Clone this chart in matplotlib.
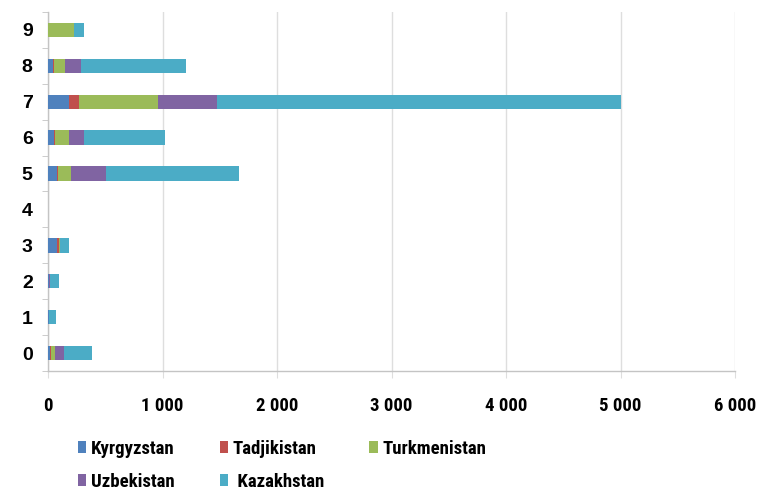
import numpy as np
import matplotlib
matplotlib.use('Agg')
import matplotlib.pyplot as plt
from matplotlib import font_manager
from matplotlib.patches import Patch
from matplotlib.ticker import FuncFormatter

# ===== 数据 =====
categories = ['0', '1', '2', '3', '4', '5', '6', '7', '8', '9']
countries = ['Kyrgyzstan', 'Tadjikistan', 'Turkmenistan', 'Uzbekistan', 'Kazakhstan']
kyrgyzstan = [15, 5, 5, 75, 0, 80, 50, 185, 40, 0]
tadjikistan = [15, 0, 0, 25, 0, 10, 10, 87, 10, 0]
turkmenistan = [28, 0, 0, 5, 0, 115, 125, 690, 100, 227]
uzbekistan = [82, 0, 10, 0, 0, 300, 130, 516, 135, 0]
kazakhstan = [240, 65, 80, 80, 0, 1160, 705, 3522, 920, 88]
colors = ['#4F81BD', '#C0504D', '#9BBB59', '#8064A2', '#4BACC6']
xticks = [0, 1000, 2000, 3000, 4000, 5000, 6000]

# ===== 字体 (窄体优先) =====
names = {f.name for f in font_manager.fontManager.ttflist}
narrow = None
for cand in ['Liberation Sans Narrow', 'Arial Narrow', 'Roboto Condensed',
             'Open Sans Condensed', 'DejaVu Sans Condensed']:
    if cand in names:
        narrow = cand
        break
plt.rcParams['font.family'] = ['Liberation Sans', 'DejaVu Sans']
txt_font = narrow or 'Liberation Sans'
txt_size = 13.5 if narrow else 12.5
col_space = 2.4 if narrow else 1.7

fig = plt.figure(figsize=(7.62, 4.90), dpi=100)
ax = fig.add_axes([48 / 762, 1 - 371 / 490, 687 / 762, 359 / 490])

series = [kyrgyzstan, tadjikistan, turkmenistan, uzbekistan, kazakhstan]
y = np.arange(len(categories))
left = np.zeros(len(categories))
for vals, c in zip(series, colors):
    ax.barh(y, vals, left=left, height=0.4, color=c, zorder=3)
    left += np.array(vals)

ax.set_xlim(0, 6000)
ax.set_ylim(-0.5, len(categories) - 0.5)
ax.set_xticks(xticks)
ax.xaxis.set_major_formatter(FuncFormatter(lambda v, p: f'{int(v):,}'.replace(',', ' ')))
ax.set_yticks(y)
ax.set_yticklabels(categories)
ax.set_yticks(np.arange(-0.5, len(categories)), minor=True)

ax.grid(axis='x', color='#DEDEDE', linewidth=1.0, zorder=0)
for s in ['top', 'right']:
    ax.spines[s].set_visible(False)
for s in ['left', 'bottom']:
    ax.spines[s].set_color('#C4C4C4')
    ax.spines[s].set_linewidth(1.0)

ax.tick_params(axis='y', which='major', length=0, pad=11, labelsize=14)
ax.tick_params(axis='y', which='minor', length=4, color='#C4C4C4', direction='out')
ax.tick_params(axis='x', which='major', length=5, color='#DEDEDE', pad=14)
for t in ax.get_yticklabels():
    t.set_fontweight('bold')
for t in ax.get_xticklabels():
    t.set_fontweight('bold')
    t.set_fontfamily(txt_font)
    t.set_fontsize(txt_size)

# 图例按行排列: matplotlib 按列填充, 所以重新排序
handles = [Patch(facecolor=c, edgecolor='none') for c in colors]
labels = countries[:-1] + [' ' + countries[-1]]
order = [0, 3, 1, 4, 2]
fig.legend([handles[i] for i in order], [labels[i] for i in order],
           ncol=3, loc='upper left',
           bbox_to_anchor=(78 / 762, 1 - 440 / 490), frameon=False,
           prop={'family': txt_font, 'weight': 'bold', 'size': txt_size},
           handlelength=0.45, handleheight=0.6, handletextpad=0.25,
           columnspacing=col_space, labelspacing=0.8, borderpad=0, borderaxespad=0)

fig.savefig('out.png', dpi=100)
